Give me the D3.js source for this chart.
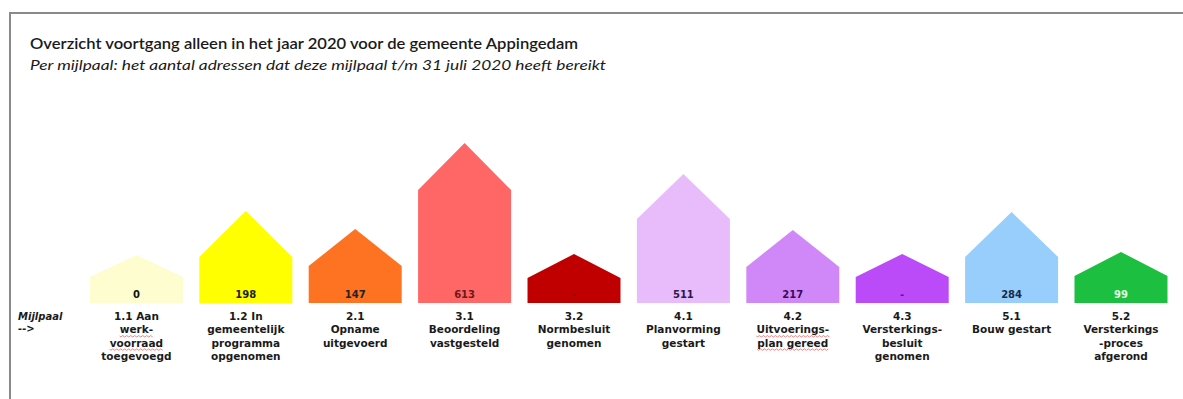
<!DOCTYPE html>
<html>
<head>
<meta charset="utf-8">
<script src="https://cdn.jsdelivr.net/npm/d3@7"></script>
<style>
  html, body { margin: 0; padding: 0; background: #fff; }
  svg { display: block; }
</style>
</head>
<body>
<svg id="chart" width="1183" height="399"></svg>
<script>
// ---- data ----
const categories = ["1.1", "1.2", "2.1", "3.1", "3.2", "4.1", "4.2", "4.3", "5.1", "5.2"];
const categoryLabels = [
  ["1.1 Aan", "werk-", "voorraad", "toegevoegd"],
  ["1.2 In", "gemeentelijk", "programma", "opgenomen"],
  ["2.1", "Opname", "uitgevoerd"],
  ["3.1", "Beoordeling", "vastgesteld"],
  ["3.2", "Normbesluit", "genomen"],
  ["4.1", "Planvorming", "gestart"],
  ["4.2", "Uitvoerings-", "plan gereed"],
  ["4.3", "Versterkings-", "besluit", "genomen"],
  ["5.1", "Bouw gestart"],
  ["5.2", "Versterkings", "-proces", "afgerond"]
];
const valueLabels = ["0", "198", "147", "613", "-", "511", "217", "-", "284", "99"];
// house shape heights (peak and wall) as drawn in the infographic
const peakHeight = [4.8, 9.2, 7.4, 16.0, 4.9, 12.9, 7.3, 4.9, 9.1, 5.1];
const wallHeight = [2.6, 4.6, 3.7, 11.3, 2.5, 8.4, 3.6, 2.6, 4.6, 2.7];
const houseColors = ["#fdfdcf", "#ffff00", "#fd7322", "#ff6666", "#c00000",
                     "#e8bcfb", "#d088f8", "#bb4bf8", "#97cefb", "#1cbf3f"];
const valueColors = ["#111", "#222", "#222", "#6a1a1a", "#7a0000",
                     "#2a1850", "#3a0a5a", "#5a1a8a", "#1a2a4a", "#e0ffe0"];
const title = "Overzicht voortgang alleen in het jaar 2020 voor de gemeente Appingedam";
const subtitle = "Per mijlpaal: het aantal adressen dat deze mijlpaal t/m 31 juli 2020 heeft bereikt";
const rowLabel = ["Mijlpaal", "-->"];
const spellMarked = [[0, 1], [0, 2], [6, 1], [6, 2]]; // [category, line] with red wavy underline

// ---- drawing ----
const svg = d3.select("#chart");

// frame
svg.append("line").attr("x1", 10).attr("x2", 1183).attr("y1", 13).attr("y2", 13)
  .attr("stroke", "#8a8a8a").attr("stroke-width", 2);
svg.append("line").attr("x1", 10).attr("x2", 10).attr("y1", 12).attr("y2", 399)
  .attr("stroke", "#8a8a8a").attr("stroke-width", 2);

// titles
const t1 = svg.append("text").attr("x", 30).attr("y", 49)
  .attr("font-family", "Lato, 'Open Sans', sans-serif").attr("font-size", 15)
  .attr("font-weight", 600).attr("fill", "#1a1a1a").text(title);
t1.attr("textLength", 548).attr("lengthAdjust", "spacingAndGlyphs");
const t2 = svg.append("text").attr("x", 30).attr("y", 70)
  .attr("font-family", "Lato, 'Open Sans', sans-serif").attr("font-size", 14)
  .attr("font-style", "italic").attr("fill", "#1a1a1a").text(subtitle);
t2.attr("textLength", 576).attr("lengthAdjust", "spacingAndGlyphs");

// scales
const x = d3.scaleBand().domain(categories).range([81.7, 1175.7])
  .paddingInner(0.15).paddingOuter(0.075);
const y = d3.scaleLinear().domain([0, 16]).range([303, 143]);

const data = categories.map((c, i) => ({
  id: c, peak: peakHeight[i], wall: wallHeight[i],
  color: houseColors[i], vcolor: valueColors[i], value: valueLabels[i], lines: categoryLabels[i]
}));

const g = svg.append("g");
g.selectAll("path.house").data(data).join("path")
  .attr("class", "house")
  .attr("fill", d => d.color)
  .attr("d", d => {
    const x0 = x(d.id), x1 = x0 + x.bandwidth(), xc = x0 + x.bandwidth() / 2;
    return `M${x0},${y(0)} L${x0},${y(d.wall)} L${xc},${y(d.peak)} L${x1},${y(d.wall)} L${x1},${y(0)} Z`;
  });

g.selectAll("text.val").data(data).join("text")
  .attr("class", "val")
  .attr("x", d => x(d.id) + x.bandwidth() / 2)
  .attr("y", y(0) - 5)
  .attr("text-anchor", "middle")
  .attr("font-family", "'DejaVu Sans', Verdana, sans-serif")
  .attr("font-size", 10).attr("font-weight", "bold")
  .attr("fill", d => d.vcolor)
  .text(d => d.value);

// category labels
const lab = g.selectAll("text.cat").data(data).join("text")
  .attr("class", "cat")
  .attr("text-anchor", "middle")
  .attr("font-family", "'DejaVu Sans', Verdana, sans-serif")
  .attr("font-size", 10.5).attr("font-weight", "bold")
  .attr("fill", "#1a1a1a");
lab.each(function(d) {
  const cx = x(d.id) + x.bandwidth() / 2;
  d3.select(this).selectAll("tspan").data(d.lines).join("tspan")
    .attr("x", cx).attr("y", (l, j) => 320 + j * 13.3).text(l => l);
});

// spell-check style wavy underlines
spellMarked.forEach(([ci, li]) => {
  const node = lab.filter((d, i) => i === ci).selectAll("tspan").nodes()[li];
  const bb = node.getBBox();
  const yy = 320 + li * 13.3 + 2.5;
  let p = `M${bb.x},${yy}`;
  for (let xx = bb.x; xx < bb.x + bb.width; xx += 2) {
    p += ` L${xx + 1},${yy + ((xx - bb.x) / 2 % 2 === 0 ? 1.2 : -0.2)}`;
  }
  g.append("path").attr("d", p).attr("fill", "none")
    .attr("stroke", "#e04040").attr("stroke-width", 0.8).attr("opacity", 0.8);
});

// row label
svg.append("text").attr("x", 18).attr("y", 320)
  .attr("font-family", "'DejaVu Sans', Verdana, sans-serif").attr("font-size", 10)
  .attr("font-weight", "bold").attr("font-style", "italic").attr("fill", "#1a1a1a")
  .selectAll("tspan").data(rowLabel).join("tspan")
  .attr("x", 18).attr("y", (d, i) => 320 + i * 12).text(d => d);
</script>
</body>
</html>
